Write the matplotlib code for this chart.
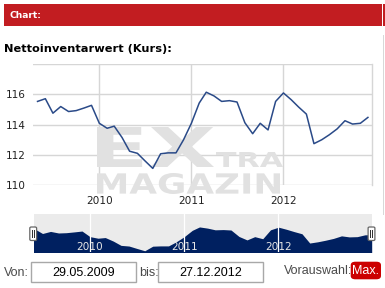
import datetime as dt
import matplotlib
matplotlib.use("Agg")
import matplotlib.pyplot as plt
import matplotlib.dates as mdates
from matplotlib.patches import Rectangle, FancyBboxPatch, PathPatch
from matplotlib.textpath import TextPath
from matplotlib.font_manager import FontProperties
from matplotlib.transforms import Affine2D, IdentityTransform

# ---------------- data ----------------
start_year, start_month = 2009, 5
values = [115.54, 115.72, 114.76, 115.20, 114.87, 114.93, 115.10, 115.28,
          114.09, 113.76, 113.90, 113.15, 112.24, 112.10, 111.60, 111.10,
          112.07, 112.13, 112.13, 113.00, 114.09, 115.43, 116.15, 115.90,
          115.54, 115.59, 115.50, 114.13, 113.40, 114.09, 113.65, 115.54,
          116.10, 115.65, 115.17, 114.70, 112.74, 113.00, 113.33, 113.72,
          114.26, 114.04, 114.09, 114.48]
nav_end_value = 114.50
y_ticks = [110, 112, 114, 116, 118]
y_labels = ["110", "112", "114", "116", ""]
year_ticks = [2010, 2011, 2012]
date_from = "29.05.2009"
date_to = "27.12.2012"

dates = []
y, m = start_year, start_month
for _ in values:
    dates.append(dt.datetime(y, m, 1))
    m += 1
    if m > 12:
        m = 1
        y += 1
nav_dates = dates + [dt.datetime(2012, 12, 27)]
nav_values = values + [nav_end_value]

W, H = 385, 288
fig = plt.figure(figsize=(W / 100, H / 100), dpi=100)
fig.patch.set_facecolor("white")


def fx(x):
    return x / W


def fy(y):
    return 1 - y / H


def ax_rect(x0, y0, x1, y1):
    return [fx(x0), fy(y1), (x1 - x0) / W, (y1 - y0) / H]


# ---------------- header ----------------
fig.add_artist(Rectangle((fx(4), fy(26)), (378) / W, 22 / H, transform=fig.transFigure,
                         facecolor="#c21d21", edgecolor="none"))
fig.add_artist(Rectangle((fx(383.3), fy(26)), 1.7 / W, 22 / H, transform=fig.transFigure,
                         facecolor="#c21d21", edgecolor="none"))
fig.text(fx(9), fy(15.5), "Chart:", color="white", fontsize=6.6, fontweight="bold",
         family="DejaVu Sans", va="center", ha="left")
fig.text(fx(4), fy(49.5), "Nettoinventarwert (Kurs):", color="black", fontsize=8.2,
         fontweight="bold", family="DejaVu Sans", va="center", ha="left")
# right border line
fig.add_artist(Rectangle((fx(383), fy(215)), 1 / W, (215 - 35) / H, transform=fig.transFigure,
                         facecolor="#d8d8d8", edgecolor="none"))

# ---------------- main chart ----------------
grid_c = "#d6d6d6"
ax = fig.add_axes(ax_rect(33, 64.3, 371.7, 185))
ax.plot(dates, values, color="#2a4a88", lw=1.1, zorder=3)
ax.set_ylim(110, 118)
ax.set_xlim(dt.datetime(2009, 4, 13), dt.datetime(2012, 12, 16))
ax.set_yticks(y_ticks)
ax.set_yticklabels(y_labels)
ax.set_xticks([dt.datetime(yy, 1, 1) for yy in year_ticks])
ax.set_xticklabels([str(yy) for yy in year_ticks])
ax.grid(True, color=grid_c, lw=1.0, zorder=0)
ax.set_axisbelow(True)
for s in ["top", "left", "bottom"]:
    ax.spines[s].set_visible(False)
ax.spines["right"].set_color(grid_c)
ax.spines["right"].set_linewidth(1.0)
ax.tick_params(axis="both", length=0, labelsize=7.6, colors="#222222")
ax.tick_params(axis="y", pad=5)
ax.tick_params(axis="x", pad=8)
for t in ax.get_xticklabels() + ax.get_yticklabels():
    t.set_family("DejaVu Sans")


def fit_text(s, x0, y0, x1, y1, color, z=1.5):
    fp = FontProperties(family="DejaVu Sans", weight="bold")
    tp = TextPath((0, 0), s, size=100, prop=fp)
    bb = tp.get_extents()
    sx = (x1 - x0) / bb.width
    sy = (y1 - y0) / bb.height
    tr = Affine2D().translate(-bb.x0, -bb.y0).scale(sx, sy).translate(x0, H - y1)
    path = tr.transform_path(tp)
    p = PathPatch(path, facecolor=color, edgecolor="none", transform=IdentityTransform(),
                  zorder=z, clip_on=False)
    ax.add_artist(p)


wm = "#e1e1e1"
fit_text("EX", 97, 127, 214, 167, wm)
fit_text("TRA", 216, 152, 283, 167, wm)
fit_text("MAGAZIN", 97, 173, 280, 194, wm)

# ---------------- navigator ----------------
nav = fig.add_axes(ax_rect(34, 213.5, 371.7, 251.7))
nav.set_facecolor("#ebebeb")
nav.fill_between(nav_dates, 100, nav_values, color="#002060", lw=0, zorder=2)
nav.set_xlim(dt.datetime(2009, 5, 29), dt.datetime(2012, 12, 27))
nav.set_ylim(110.9, 119.0)
for yy in year_ticks:
    d = dt.datetime(yy, 1, 1)
    nav.axvline(d, color="white", lw=0.9, zorder=3)
    nav.text(d, 111.9, str(yy), color="#e6e6e6", fontsize=7.6, ha="center", va="center",
             family="DejaVu Sans", zorder=4)
nav.set_xticks([])
nav.set_yticks([])
for s in nav.spines.values():
    s.set_visible(False)

# handles
for hx in (33.2, 371.5):
    fig.add_artist(FancyBboxPatch((fx(hx - 3.4), fy(240.5)), 6.8 / W, 13.5 / H,
                                  boxstyle="round,pad=0,rounding_size=0.004",
                                  transform=fig.transFigure, facecolor="white",
                                  edgecolor="#666666", lw=0.9, zorder=5))
    for dx in (-1.1, 1.1):
        fig.add_artist(Rectangle((fx(hx + dx - 0.4), fy(237.5)), 0.8 / W, 7.5 / H,
                                 transform=fig.transFigure, facecolor="#333333",
                                 edgecolor="none", zorder=6))

# ---------------- bottom controls ----------------
lab_c = "#4a4a4a"
fs = 9
fam = "Liberation Sans"
fig.text(fx(4), fy(272.5), "Von:", color=lab_c, fontsize=fs, family=fam, va="center", ha="left")
fig.add_artist(Rectangle((fx(31), fy(282.3)), (135.7 - 31) / W, (282.3 - 261.7) / H,
                         transform=fig.transFigure, facecolor="white", edgecolor="#a8a8a8", lw=1))
fig.text(fx(83.3), fy(272.5), date_from, color="black", fontsize=fs, family=fam,
         va="center", ha="center")
fig.text(fx(139), fy(272.5), "bis:", color=lab_c, fontsize=fs, family=fam, va="center", ha="left")
fig.add_artist(Rectangle((fx(158.3), fy(282.3)), (263.3 - 158.3) / W, (282.3 - 261.7) / H,
                         transform=fig.transFigure, facecolor="white", edgecolor="#a8a8a8", lw=1))
fig.text(fx(210.8), fy(272.5), date_to, color="black", fontsize=fs, family=fam,
         va="center", ha="center")
fig.text(fx(284), fy(271), "Vorauswahl:", color=lab_c, fontsize=fs, family=fam,
         va="center", ha="left")
fig.add_artist(FancyBboxPatch((fx(350.7), fy(279.3)), (381 - 350.7) / W, (279.3 - 261.7) / H,
                              boxstyle="round,pad=0,rounding_size=0.012",
                              transform=fig.transFigure, facecolor="#cc0000",
                              edgecolor="none"))
fig.text(fx(365.8), fy(270.8), "Max.", color="white", fontsize=fs, family=fam,
         va="center", ha="center")

fig.savefig("out.png", dpi=100)
